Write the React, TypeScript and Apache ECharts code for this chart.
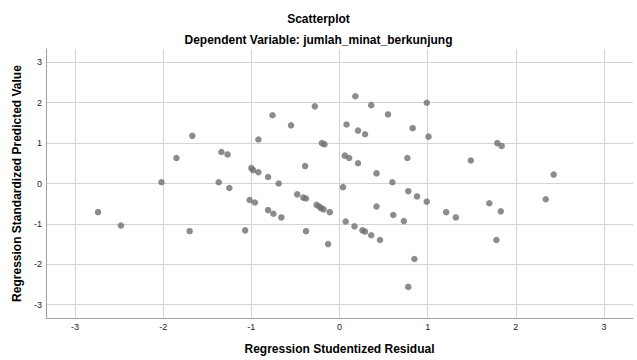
import React, { useEffect, useRef } from "react";
import * as echarts from "echarts";

const titleText = "Scatterplot";
const subtitleText = "Dependent Variable: jumlah_minat_berkunjung";
const xAxisTitle = "Regression Studentized Residual";
const yAxisTitle = "Regression Standardized Predicted Value";
const tickValues = [-3, -2, -1, 0, 1, 2, 3];

const residuals = [
  -1.67, -1.85, -1.34, -1.27, -2.02, -1.37, -1.25, -2.74, -2.48, -1.70,
  0.18, -0.28, 0.36, 0.55, 0.99, -0.76, -0.55, 0.08, 0.21, 0.29,
  0.83, 1.01, -0.92, -0.20, -0.17, 0.06, 0.11, 0.21, 0.77, -0.39,
  -1.00, -0.98, -0.92, -0.81, -0.69, 0.42, 0.60, 0.04, 1.49, 1.79,
  1.84, 2.43, -1.02, -0.96, -0.81, -0.75, -0.66, -1.07, -0.48, -0.41,
  -0.38, -0.26, -0.23, -0.21, -0.18, -0.11, -0.38, -0.13, 0.78, 0.88,
  0.99, 0.42, 0.61, 0.73, 0.07, 0.17, 0.26, 0.29, 0.36, 0.46,
  0.85, 0.78, 1.21, 1.32, 1.70, 1.83, 2.34, 1.78,
];

const predicted = [
  1.18, 0.63, 0.78, 0.72, 0.03, 0.03, -0.11, -0.71, -1.04, -1.18,
  2.16, 1.91, 1.94, 1.71, 2.00, 1.69, 1.44, 1.46, 1.31, 1.22,
  1.37, 1.16, 1.09, 1.00, 0.97, 0.69, 0.63, 0.50, 0.63, 0.43,
  0.38, 0.33, 0.28, 0.16, 0.00, 0.25, 0.03, -0.09, 0.57, 1.00,
  0.93, 0.22, -0.41, -0.47, -0.66, -0.75, -0.84, -1.16, -0.27, -0.35,
  -0.37, -0.53, -0.57, -0.61, -0.64, -0.71, -1.18, -1.50, -0.19, -0.32,
  -0.45, -0.57, -0.78, -0.93, -0.94, -1.06, -1.16, -1.19, -1.28, -1.40,
  -1.87, -2.56, -0.71, -0.84, -0.49, -0.69, -0.39, -1.40,
];

const FONT = "'Liberation Sans', Arial, sans-serif";

export default function App() {
  const ref = useRef<HTMLDivElement>(null);
  useEffect(() => {
    document.body.style.margin = "0";
    if (!ref.current) return;
    const chart = echarts.init(ref.current, undefined, { renderer: "svg" });
    const data = residuals.map((x, i) => [x, predicted[i]]);
    const axisCommon = {
      type: "value" as const,
      min: -3.33,
      max: 3.33,
      nameLocation: "middle" as const,
      nameTextStyle: { fontFamily: FONT, fontSize: 12, fontWeight: "bold", color: "#000" },
      axisLine: { show: true, onZero: false, lineStyle: { color: "#a0a0a0", width: 1 } },
      axisTick: { show: false, customValues: tickValues },
      axisLabel: { customValues: tickValues, fontFamily: FONT, fontSize: 9, color: "#222", margin: 4 },
      splitLine: { show: true, lineStyle: { color: "#d3d3d3", width: 1 } },
    };
    chart.setOption({
      animation: false,
      backgroundColor: "#fff",
      title: [
        {
          text: titleText,
          left: "center",
          top: 8,
          textStyle: { fontFamily: FONT, fontSize: 12, fontWeight: "bold", color: "#000" },
        },
        {
          text: subtitleText,
          left: "center",
          top: 29,
          textStyle: { fontFamily: FONT, fontSize: 12, fontWeight: "bold", color: "#000" },
        },
      ],
      grid: { left: 46, right: 4, top: 49, bottom: 37, containLabel: false },
      xAxis: { ...axisCommon, name: xAxisTitle, nameGap: 25 },
      yAxis: { ...axisCommon, name: yAxisTitle, nameGap: 23 },
      series: [
        {
          type: "scatter",
          data,
          symbolSize: 6.5,
          itemStyle: { color: "#6f6f6f" },
        },
      ],
    });
    return () => chart.dispose();
  }, []);
  return <div ref={ref} style={{ width: 637, height: 360 }} />;
}
